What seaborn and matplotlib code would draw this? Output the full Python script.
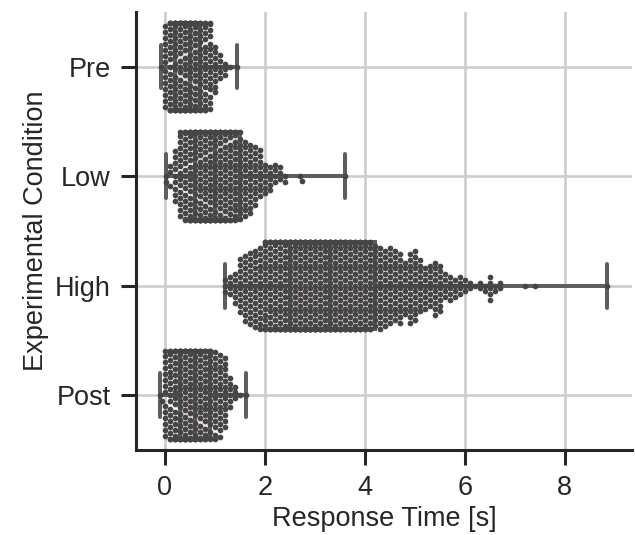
import numpy as np
import pandas as pd
import matplotlib
matplotlib.use("Agg")
import matplotlib.pyplot as plt
import seaborn as sns

# Response times: bin value -> number of points in that bin
conditions = ["Pre", "Low", "High", "Post"]

pre_vals   = [-0.07, 0.0, 0.1, 0.2, 0.3, 0.4, 0.5, 0.6, 0.7, 0.8, 0.9, 1.0, 1.1, 1.2, 1.3, 1.45]
pre_counts = [1, 14, 19, 21, 22, 22, 22, 21, 19, 18, 16, 9, 5, 3, 1, 1]

low_vals   = [0.02, 0.1, 0.2, 0.3, 0.4, 0.5, 0.6, 0.7, 0.8, 0.9, 1.0, 1.1, 1.2, 1.3, 1.4,
              1.5, 1.6, 1.7, 1.8, 1.9, 2.0, 2.1, 2.2, 2.3, 2.4, 2.7, 2.75, 3.6]
low_counts = [2, 3, 9, 15, 18, 20, 21, 22, 22, 22, 21, 20, 20, 19, 18,
              16, 14, 13, 11, 9, 6, 5, 4, 3, 2, 1, 1, 1]

high_vals   = [1.2, 1.3, 1.4, 1.5, 1.6, 1.7, 1.8, 1.9,
               2.0, 2.1, 2.2, 2.3, 2.4, 2.5, 2.6, 2.7, 2.8, 2.9, 3.0, 3.1, 3.2, 3.3, 3.4,
               3.5, 3.6, 3.7, 3.8, 3.9, 4.0, 4.1,
               4.2, 4.3, 4.4, 4.5, 4.6, 4.7, 4.8, 4.9, 5.0, 5.1, 5.2, 5.3, 5.4, 5.5,
               5.6, 5.7, 5.8, 5.9, 6.0, 6.1, 6.2, 6.3, 6.4, 6.5, 6.6, 6.7, 7.2, 7.4, 8.85]
high_counts = [3, 4, 6, 10, 12, 13, 14, 15,
               19, 20, 21, 22, 23, 23, 24, 24, 24, 24, 24, 24, 23, 23, 22,
               22, 21, 21, 20, 20, 19, 18,
               15, 15, 14, 14, 13, 13, 10, 13, 13, 10, 8, 8, 10, 9,
               5, 5, 4, 4, 3, 2, 1, 2, 2, 5, 2, 2, 1, 1, 1]

post_vals   = [-0.1, -0.05, 0.0, 0.1, 0.2, 0.3, 0.4, 0.5, 0.6, 0.7, 0.8, 0.9,
               1.0, 1.1, 1.2, 1.3, 1.4, 1.5, 1.62]
post_counts = [1, 1, 14, 18, 20, 22, 22, 22, 21, 20, 19, 18,
               16, 15, 13, 6, 3, 1, 1]

box_colors = ["#dde6f0", "#e8e3ec", "#f2e2e2", "#f3dede"]


def build_frame():
    parts = []
    for name, vals, counts in [("Pre", pre_vals, pre_counts),
                               ("Low", low_vals, low_counts),
                               ("High", high_vals, high_counts),
                               ("Post", post_vals, post_counts)]:
        rt = np.repeat(vals, counts)
        parts.append(pd.DataFrame({"Condition": name, "RT": rt}))
    return pd.concat(parts, ignore_index=True)


df = build_frame()

sns.set_style("ticks", {"axes.grid": True, "grid.color": ".8"})
plt.rcParams["font.family"] = ["Liberation Sans", "DejaVu Sans"]
plt.rcParams.update({
    "axes.linewidth": 2.2,
    "axes.edgecolor": ".15",
    "grid.linewidth": 1.9,
    "xtick.major.size": 11,
    "ytick.major.size": 11,
    "xtick.major.width": 2.2,
    "ytick.major.width": 2.2,
    "xtick.major.pad": 7,
    "ytick.major.pad": 7,
    "xtick.labelsize": 19.5,
    "ytick.labelsize": 19.5,
    "axes.labelsize": 19.5,
})

fig = plt.figure(figsize=(6.35, 5.35), dpi=100)
ax = fig.add_axes([0.214, 0.159, 0.781, 0.819])

sns.boxplot(data=df, x="RT", y="Condition", order=conditions,
            hue="Condition", palette=box_colors, legend=False,
            whis=(0, 100), linecolor=".37", linewidth=2.9, fliersize=0,
            ax=ax)
sns.swarmplot(data=df, x="RT", y="Condition", order=conditions,
              color=".27", size=4.1, zorder=3, ax=ax)

ax.set_xlim(-0.58, 9.34)
ax.set_xticks([0, 2, 4, 6, 8])
ax.xaxis.grid(True)
ax.yaxis.grid(True)
ax.set_axisbelow(True)
ax.set_xlabel("Response Time [s]")
ax.set_ylabel("Experimental Condition")
sns.despine(ax=ax)

fig.savefig("out.png", dpi=100)
